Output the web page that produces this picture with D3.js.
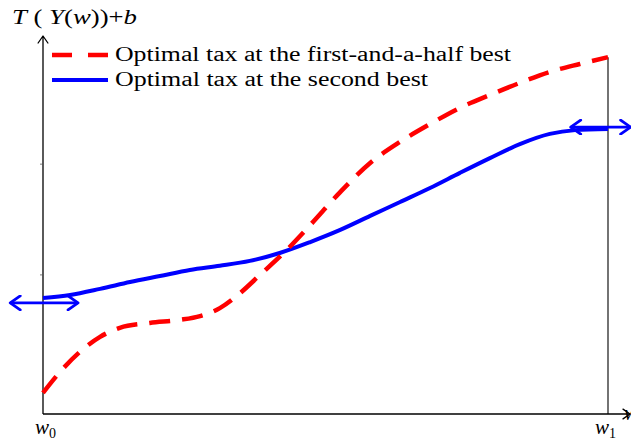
<!DOCTYPE html>
<html>
<head>
<meta charset="utf-8">
<script src="https://cdn.jsdelivr.net/npm/d3@7"></script>
<style>
  body { margin: 0; background: #fff; }
</style>
</head>
<body>
<div id="chart"></div>
<script>
// Data (x: 0 = w0, 1 = w1; y: share of plot height)
const redX = [0, 0.030, 0.065, 0.101, 0.136, 0.189, 0.242, 0.278, 0.313, 0.349, 0.384, 0.428, 0.473, 0.526, 0.579, 0.632, 0.685, 0.738, 0.791, 0.844, 0.897, 0.950, 1];
const redY = [0.056, 0.111, 0.164, 0.204, 0.228, 0.241, 0.249, 0.259, 0.280, 0.320, 0.368, 0.429, 0.500, 0.587, 0.664, 0.720, 0.767, 0.810, 0.844, 0.876, 0.905, 0.926, 0.944];
const blueX = [0, 0.048, 0.101, 0.154, 0.207, 0.260, 0.313, 0.366, 0.419, 0.473, 0.526, 0.579, 0.632, 0.685, 0.738, 0.791, 0.844, 0.897, 0.942, 1];
const blueY = [0.307, 0.315, 0.331, 0.349, 0.365, 0.381, 0.392, 0.405, 0.426, 0.455, 0.487, 0.524, 0.561, 0.598, 0.638, 0.677, 0.714, 0.741, 0.751, 0.754];
// double-headed arrows: [x1, x2, y]
const arrows = [[-0.058, 0.062, 0.294], [0.934, 1.04, 0.759]];
const yTicks = [0.368, 0.661];
const legendLabels = ["Optimal tax at the first-and-a-half best", "Optimal tax at the second best"];

const width = 631, height = 441;
const margin = { left: 43, right: 23, top: 36, bottom: 27 };
const serif = "'Liberation Serif', 'Times New Roman', Tinos, 'DejaVu Serif', serif";

const svg = d3.select("#chart").append("svg")
  .attr("width", width)
  .attr("height", height)
  .style("font-family", serif);

const defs = svg.append("defs");
function chevron(id, color, w, s) {
  defs.append("marker")
    .attr("id", id)
    .attr("viewBox", "-12 -8 14 16")
    .attr("refX", 0).attr("refY", 0)
    .attr("markerWidth", 14).attr("markerHeight", 16)
    .attr("markerUnits", "userSpaceOnUse")
    .attr("orient", "auto-start-reverse")
    .append("path")
    .attr("d", `M${-s},${-s * 0.7} L0,0 L${-s},${s * 0.7}`)
    .attr("fill", "none")
    .attr("stroke", color)
    .attr("stroke-width", w)
    .attr("stroke-linecap", "round")
    .attr("stroke-linejoin", "round");
}
chevron("arrBlack", "#000", 1.3, 7);
chevron("arrBlue", "#0000ff", 2.8, 10);

const x = d3.scaleLinear().domain([0, 1]).range([margin.left, width - margin.right]);
const y = d3.scaleLinear().domain([0, 1]).range([height - margin.bottom, margin.top]);

// axes
svg.append("line")
  .attr("x1", x(0)).attr("x2", x(0))
  .attr("y1", y(0)).attr("y2", y(1))
  .attr("stroke", "#000").attr("stroke-width", 1.3)
  .attr("marker-end", "url(#arrBlack)");
svg.append("line")
  .attr("x1", x(0)).attr("x2", 630)
  .attr("y1", y(0)).attr("y2", y(0))
  .attr("stroke", "#000").attr("stroke-width", 1.3)
  .attr("marker-end", "url(#arrBlack)");
svg.append("line")
  .attr("x1", x(1)).attr("x2", x(1))
  .attr("y1", y(0)).attr("y2", y(redY[redY.length - 1]))
  .attr("stroke", "#000").attr("stroke-width", 1.1);

svg.selectAll(".ytick").data(yTicks).enter().append("line")
  .attr("x1", x(0) - 3).attr("x2", x(0))
  .attr("y1", d => y(d)).attr("y2", d => y(d))
  .attr("stroke", "#555").attr("stroke-width", 0.8);

// curves
const line = d3.line().x(d => x(d[0])).y(d => y(d[1])).curve(d3.curveMonotoneX);

svg.append("path")
  .datum(blueX.map((v, i) => [v, blueY[i]]))
  .attr("d", line)
  .attr("fill", "none")
  .attr("stroke", "#0000ff")
  .attr("stroke-width", 4);

svg.append("path")
  .datum(redX.map((v, i) => [v, redY[i]]))
  .attr("d", line)
  .attr("fill", "none")
  .attr("stroke", "#ff0000")
  .attr("stroke-width", 4.5)
  .attr("stroke-dasharray", "21,12");

// double arrows
svg.selectAll(".darrow").data(arrows).enter().append("line")
  .attr("x1", d => x(d[0])).attr("x2", d => x(d[1]))
  .attr("y1", d => y(d[2])).attr("y2", d => y(d[2]))
  .attr("stroke", "#0000ff").attr("stroke-width", 2.8)
  .attr("marker-start", "url(#arrBlue)")
  .attr("marker-end", "url(#arrBlue)");

// legend
const legend = svg.append("g");
legend.append("line")
  .attr("x1", 52).attr("x2", 108).attr("y1", 55).attr("y2", 55)
  .attr("stroke", "#ff0000").attr("stroke-width", 4.5)
  .attr("stroke-dasharray", "20,16");
legend.append("line")
  .attr("x1", 52).attr("x2", 108).attr("y1", 80).attr("y2", 80)
  .attr("stroke", "#0000ff").attr("stroke-width", 4);
legend.selectAll(".lt").data(legendLabels).enter().append("text")
  .attr("x", 115)
  .attr("y", (d, i) => 61 + i * 25)
  .attr("font-size", 20)
  .attr("textLength", (d, i) => i === 0 ? 396 : 313)
  .attr("lengthAdjust", "spacingAndGlyphs")
  .text(d => d);

// axis labels
const yl = svg.append("text").attr("x", 12).attr("y", 24).attr("font-size", 21)
  .attr("textLength", 125).attr("lengthAdjust", "spacingAndGlyphs");
yl.append("tspan").attr("font-style", "italic").text("T");
yl.append("tspan").text(" ( ");
yl.append("tspan").attr("font-style", "italic").text("Y");
yl.append("tspan").text("(");
yl.append("tspan").attr("font-style", "italic").text("w");
yl.append("tspan").text("))+");
yl.append("tspan").attr("font-style", "italic").text("b");

function wLabel(xp, sub) {
  const t = svg.append("text").attr("x", xp).attr("y", 434).attr("font-size", 21);
  t.append("tspan").attr("font-style", "italic").text("w");
  t.append("tspan").attr("font-size", 14).attr("dy", 4).text(sub);
}
wLabel(35, "0");
wLabel(595, "1");
svg.append("text").attr("x", 624).attr("y", 420).attr("font-size", 21)
  .attr("font-style", "italic").text("w");
</script>
</body>
</html>
